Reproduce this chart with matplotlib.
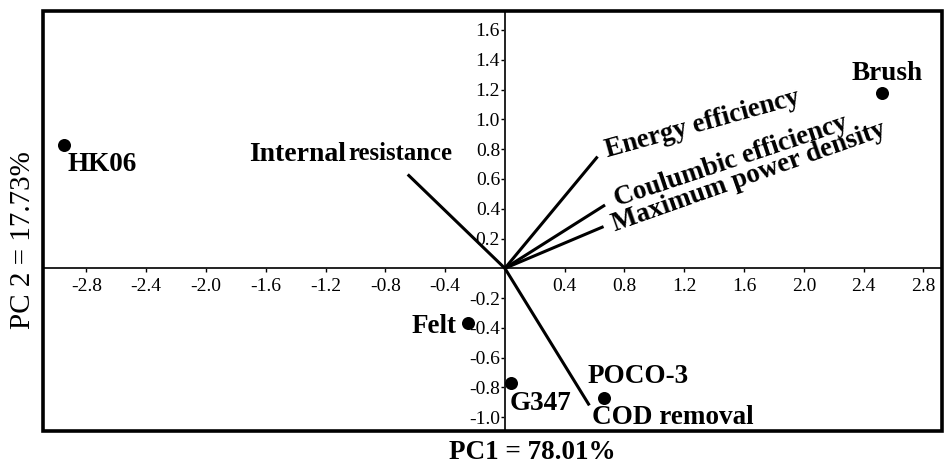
import matplotlib
matplotlib.use("Agg")
import matplotlib.pyplot as plt
from matplotlib.patches import Rectangle

plt.rcParams['font.family'] = ['Liberation Serif', 'DejaVu Serif']
plt.rcParams['axes.unicode_minus'] = False

# PCA scores of the electrode materials
samples = ['HK06', 'Brush', 'Felt', 'G347', 'POCO-3']
pc1_scores = [-2.95, 2.52, -0.25, 0.04, 0.66]
pc2_scores = [0.83, 1.18, -0.37, -0.77, -0.87]

# Loadings of the performance variables
variables = ['Internal resistance', 'Energy efficiency', 'Coulumbic efficiency',
             'Maximum power density', 'COD removal']
pc1_loadings = [-0.65, 0.62, 0.67, 0.66, 0.565]
pc2_loadings = [0.63, 0.75, 0.425, 0.28, -0.92]

x_ticks = [-2.8, -2.4, -2.0, -1.6, -1.2, -0.8, -0.4, 0.4, 0.8, 1.2, 1.6, 2.0, 2.4, 2.8]
y_ticks = [-1.0, -0.8, -0.6, -0.4, -0.2, 0.2, 0.4, 0.6, 0.8, 1.0, 1.2, 1.4, 1.6]

x_title = 'PC1 = 78.01%'
y_title = 'PC 2 = 17.73%'

fig = plt.figure(figsize=(9.45, 4.67), dpi=100)
ax = fig.add_axes([0.0455, 0.0771, 0.9513, 0.8993])
ax.set_xlim(-3.09, 2.924)
ax.set_ylim(-1.092, 1.727)

# axes crossing at the origin
for side in ('top', 'right'):
    ax.spines[side].set_visible(False)
ax.spines['left'].set_position(('data', 0))
ax.spines['bottom'].set_position(('data', 0))
for side in ('left', 'bottom'):
    ax.spines[side].set_linewidth(1.4)
    ax.spines[side].set_color('#222222')

ax.set_xticks(x_ticks)
ax.set_yticks(y_ticks)
ax.set_xticklabels([f'{v:.1f}' for v in x_ticks])
ax.set_yticklabels([f'{v:.1f}' for v in y_ticks])
ax.tick_params(axis='x', direction='out', length=3, width=1, pad=4, labelsize=14)
ax.tick_params(axis='y', direction='out', length=3, width=1, pad=0.5, labelsize=14)

# heavy outer frame
ax.add_patch(Rectangle((0, 0), 1, 1, transform=ax.transAxes, fill=False,
                       lw=2.6, edgecolor='black', clip_on=False, zorder=6))

# loading vectors
for lx, ly in zip(pc1_loadings, pc2_loadings):
    ax.plot([0, lx], [0, ly], color='black', lw=2.2, solid_capstyle='butt', zorder=3)

# score points
ax.scatter(pc1_scores, pc2_scores, s=88, color='black', zorder=4, linewidths=0)

bold = dict(fontweight='bold', color='black', textcoords='offset points',
            ha='left', va='baseline', zorder=5)

sample_offsets = {
    'HK06': (2.4, -19.2, 'left'),
    'Brush': (-21.6, 9.1, 'left'),
    'Felt': (-7.9, -7.2, 'right'),
    'G347': (-1.0, -19.2, 'left'),
    'POCO-3': (-11.3, 10.8, 'left'),
}
for name, x, y in zip(samples, pc1_scores, pc2_scores):
    dx, dy, ha = sample_offsets[name]
    kw = dict(bold, ha=ha)
    ax.annotate(name, (x, y), xytext=(dx, dy), fontsize=19.5, **kw)

# variable labels (offset in points, rotation in degrees)
var_offsets = {
    'Energy efficiency': (6.8, -0.7, 15.5),
    'Coulumbic efficiency': (8.4, -1.2, 18.5),
    'Maximum power density': (8.4, -3.6, 19.5),
    'COD removal': (1.7, -13.2, 0),
}
for name, x, y in zip(variables, pc1_loadings, pc2_loadings):
    if name == 'Internal resistance':
        first, second = name.split(' ')
        ax.annotate(first, (x, y), xytext=(-114, 9.6), fontsize=20, **bold)
        ax.annotate(second, (x, y), xytext=(-42.5, 10.1), fontsize=17.8, **bold)
        continue
    dx, dy, rot = var_offsets[name]
    ax.annotate(name, (x, y), xytext=(dx, dy), fontsize=19.5, rotation=rot,
                rotation_mode='anchor', **bold)

fig.text(0.5635, 0.030, x_title, ha='center', va='center',
         fontsize=19.5, fontweight='bold')
fig.text(0.0243, 0.486, y_title, ha='center', va='center', rotation=90,
         fontsize=21, fontweight='normal')

fig.savefig('out.png', dpi=100)
